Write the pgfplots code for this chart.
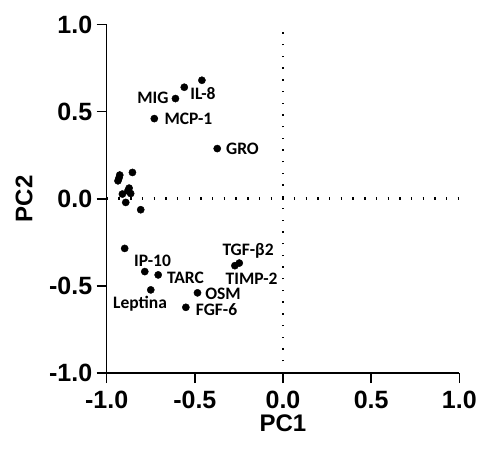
\documentclass[border=0pt]{standalone}
\usepackage{fontspec}
\setmainfont{Liberation Sans}
\newfontfamily\carlito{Carlito}
\usepackage{pgfplots}
\pgfplotsset{compat=1.18}
\begin{document}
\begin{tikzpicture}
\begin{axis}[
  at={(0pt,0pt)}, anchor=south west,
  scale only axis, width=352.6pt, height=348.5pt,
  xmin=-1, xmax=1, ymin=-1, ymax=1,
  axis x line*=bottom, axis y line*=left,
  axis line style={line width=1.6pt},
  tick style={line width=1.6pt, black},
  major tick length=10pt,
  tick align=outside,
  xtick={-1,-0.5,0,0.5,1}, ytick={-1,-0.5,0,0.5,1},
  /pgf/number format/.cd, fixed, fixed zerofill, precision=1, assume math mode=true,
  /pgfplots/.cd,
  tick label style={font=\fontsize{25}{29}\selectfont\bfseries},
  xticklabel style={yshift=-4.5pt},
  yticklabel style={xshift=-1pt},
  xlabel={PC1}, ylabel={PC2},
  every axis x label/.style={at={(axis description cs:0.5,-0.1435)}, anchor=center, font=\fontsize{24}{28}\selectfont\bfseries},
  every axis y label/.style={at={(axis description cs:-0.2345,0.5)}, anchor=center, rotate=90, font=\fontsize{24}{28}\selectfont\bfseries},
  clip=false,
]
\addplot[black, line width=2.6pt, dash pattern=on 1.4pt off 10.3pt] coordinates {(0,-1) (0,1)};
\addplot[black, line width=2.6pt, dash pattern=on 1.4pt off 10.3pt] coordinates {(-1,0) (1,0)};
\addplot[only marks, mark=*, mark size=3.6pt, black] coordinates {
(-0.926,0.136) (-0.936,0.103) (-0.854,0.151) (-0.873,0.061) (-0.911,0.027)
(-0.864,0.030) (-0.892,-0.021) (-0.807,-0.063) (-0.88,0.045) (-0.93,0.12)
(-0.46,0.68) (-0.56,0.64) (-0.61,0.575) (-0.73,0.46) (-0.373,0.288)
(-0.898,-0.285) (-0.784,-0.418) (-0.708,-0.437) (-0.75,-0.523) (-0.485,-0.54)
(-0.551,-0.623) (-0.273,-0.384) (-0.248,-0.369)
};
\begin{scope}[every node/.style={font=\carlito\fontsize{17.5}{20}\selectfont\bfseries, inner sep=0pt}]
\node at (axis cs:-0.738,0.579) {MIG};
\node at (axis cs:-0.454,0.602) {IL-8};
\node at (axis cs:-0.536,0.458) {MCP-1};
\node at (axis cs:-0.23,0.287) {GRO};
\node at (axis cs:-0.198,-0.298) {TGF-β2};
\node at (axis cs:-0.74,-0.359) {IP-10};
\node at (axis cs:-0.553,-0.451) {TARC};
\node at (axis cs:-0.178,-0.46) {TIMP-2};
\node at (axis cs:-0.34,-0.543) {OSM};
\node at (axis cs:-0.811,-0.6) {Leptina};
\node at (axis cs:-0.377,-0.638) {FGF-6};
\end{scope}
\end{axis}
\pgfresetboundingbox
\path[use as bounding box] (-106.7pt,-78pt) rectangle (371.3pt,373pt);
\end{tikzpicture}
\end{document}
